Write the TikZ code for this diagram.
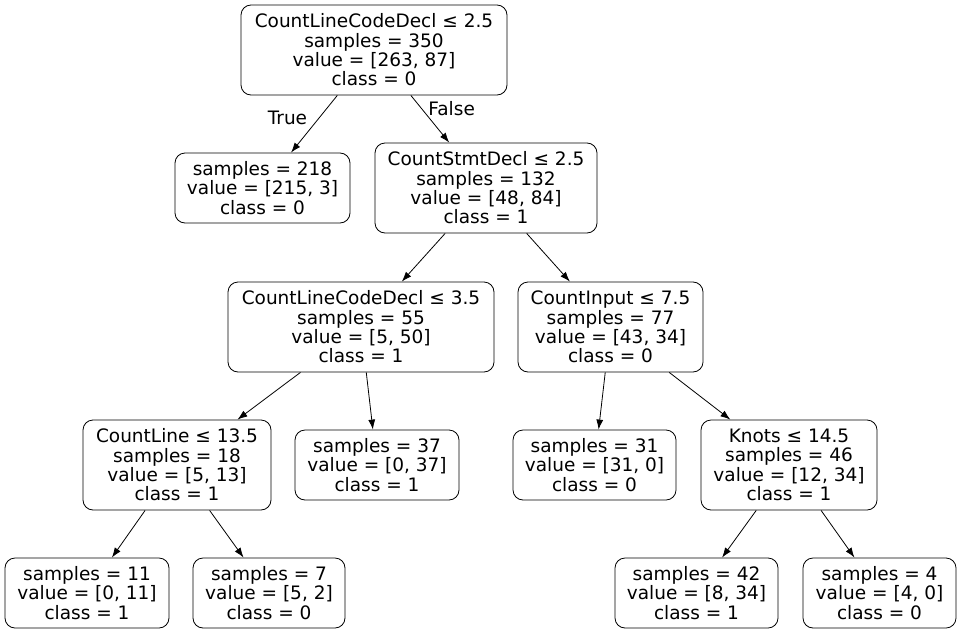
\documentclass[tikz,border=0pt]{standalone}
\usepackage{fontspec}
\setmainfont{DejaVu Sans}
\usetikzlibrary{arrows.meta}
\tikzset{>={Latex[length=10pt,width=7pt]}}
\tikzset{
  treenode/.style={draw, rounded corners=10pt, line width=0.8pt, align=center,
    inner sep=0pt, font=\fontsize{18.5}{19.3}\selectfont},
  split/.style={treenode, minimum height=90pt},
  leaf/.style={treenode, minimum height=70pt}
}

\begin{document}
\begin{tikzpicture}[x=1pt, y=-1pt]
\useasboundingbox (0,0) rectangle (960,634);

\node[split, minimum width=266pt] (root) at (374,50)
  {CountLineCodeDecl ≤ 2.5\\samples = 350\\value = [263, 87]\\class = 0};
\node[leaf, minimum width=175pt] (l) at (262.5,188)
  {samples = 218\\value = [215, 3]\\class = 0};
\node[split, minimum width=222pt] (r) at (486,188)
  {CountStmtDecl ≤ 2.5\\samples = 132\\value = [48, 84]\\class = 1};
\node[split, minimum width=266pt] (rl) at (361,327)
  {CountLineCodeDecl ≤ 3.5\\samples = 55\\value = [5, 50]\\class = 1};
\node[split, minimum width=185pt] (rr) at (610.5,327)
  {CountInput ≤ 7.5\\samples = 77\\value = [43, 34]\\class = 0};
\node[split, minimum width=188pt] (rll) at (177,465)
  {CountLine ≤ 13.5\\samples = 18\\value = [5, 13]\\class = 1};
\node[leaf, minimum width=164pt] (rlr) at (377,465)
  {samples = 37\\value = [0, 37]\\class = 1};
\node[leaf, minimum width=163pt] (rrl) at (594.5,465)
  {samples = 31\\value = [31, 0]\\class = 0};
\node[split, minimum width=176pt] (rrr) at (789,465)
  {Knots ≤ 14.5\\samples = 46\\value = [12, 34]\\class = 1};
\node[leaf, minimum width=164pt] (rlll) at (87,593)
  {samples = 11\\value = [0, 11]\\class = 1};
\node[leaf, minimum width=152pt] (rllr) at (269,593)
  {samples = 7\\value = [5, 2]\\class = 0};
\node[leaf, minimum width=163pt] (rrrl) at (696.5,593)
  {samples = 42\\value = [8, 34]\\class = 1};
\node[leaf, minimum width=153pt] (rrrr) at (879.5,593)
  {samples = 4\\value = [4, 0]\\class = 0};

\path[->, line width=0.8pt, font=\fontsize{18.5}{19.3}\selectfont]
(root)
edge node[pos=0.40, anchor=east, xshift=-8pt] {True} (l)
edge node[pos=0.27, anchor=west, xshift=3.5pt] {False} (r)
(r)
edge (rl)
edge (rr)
(rl)
edge (rll)
edge (rlr)
(rr)
edge (rrl)
edge (rrr)
(rll)
edge (rlll)
edge (rllr)
(rrr)
edge (rrrl)
edge (rrrr)
;
\end{tikzpicture}
\end{document}
